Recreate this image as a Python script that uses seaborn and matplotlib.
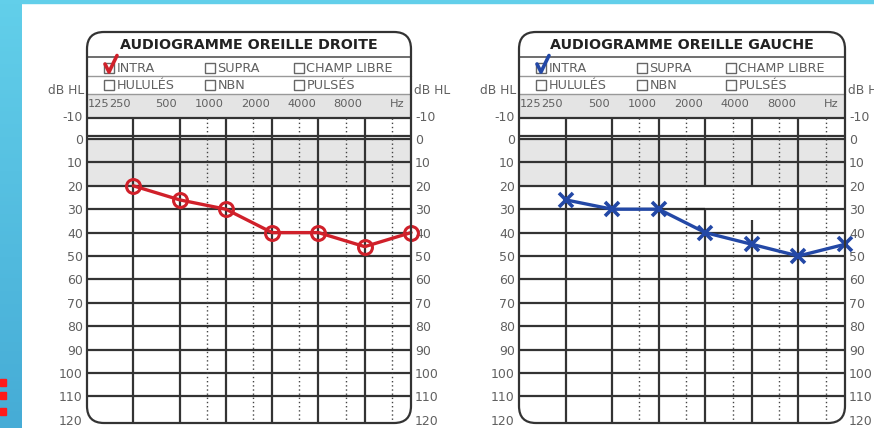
import numpy as np
import pandas as pd
import seaborn as sns
import matplotlib.pyplot as plt
from matplotlib.patches import FancyBboxPatch, Rectangle

# audiogram values (dB HL per frequency)
freqs = [250, 500, 1000, 2000, 4000, 8000, 16000]
right_ear_db = [20, 26, 30, 40, 40, 46, 40]
left_ear_db = [26, 30, 30, 40, 45, 50, 45]
freq_labels = ['125', '250', '500', '1000', '2000', '4000', '8000']
label_freqs = [125, 250, 500, 1000, 2000, 4000, 8000]
half_octaves = [750, 1500, 3000, 6000, 12000]
db_ticks = list(range(-10, 130, 10))
options_row1 = ['INTRA', 'SUPRA', 'CHAMP LIBRE']
options_row2 = ['HULULÉS', 'NBN', 'PULSÉS']

W, H = 874, 428
sns.set_theme(style='white')
plt.rcParams['font.family'] = ['DejaVu Sans']

fig = plt.figure(figsize=(W / 100, H / 100), dpi=100)

bg = fig.add_axes([0, 0, 1, 1], zorder=0)
bg.set_xlim(0, W)
bg.set_ylim(H, 0)
bg.axis('off')

fg = fig.add_axes([0, 0, 1, 1], zorder=3)
fg.set_xlim(0, W)
fg.set_ylim(H, 0)
fg.axis('off')
fg.patch.set_alpha(0)

# slide decoration: cyan strips and red squares
grad = np.linspace(0, 1, 100).reshape(-1, 1)
bg.imshow(grad, extent=(0, 22, H, 0), cmap=sns.blend_palette(['#62cfea', '#46acd6'], as_cmap=True),
          aspect='auto', zorder=1)
bg.add_patch(Rectangle((0, 0), W, 3, color='#62cfea', zorder=1))
for yy in [379, 392, 408]:
    bg.add_patch(Rectangle((0, yy), 6, 6.5, color='#ff1a1a', zorder=2))

# dB -> pixel: px = 139 + 2.34 * dB
top_db, bot_db = -19.2, 121.3
px_top = 139 + 2.34 * top_db
px_bot = 139 + 2.34 * bot_db
grid_top = -9
txt_gray = '#606060'


def draw_chart(x0, x1, title, values, color, marker, check_color, breaks=None):
    # box
    bg.add_patch(FancyBboxPatch((x0, 32), x1 - x0, 391, boxstyle='round,pad=0,rounding_size=17',
                                fc='white', ec='none', zorder=2))
    fg.add_patch(FancyBboxPatch((x0, 32), x1 - x0, 391, boxstyle='round,pad=0,rounding_size=17',
                                fc='none', ec='#333333', lw=1.6, zorder=5))
    fg.plot([x0, x1], [57, 57], color='#555555', lw=1.2)
    fg.plot([x0, x1], [76, 76], color='#999999', lw=1.0)
    fg.plot([x0, x1], [93.5, 93.5], color='#999999', lw=1.0)
    fg.text((x0 + x1) / 2, 45, title, ha='center', va='center', fontsize=10.3,
            fontweight='bold', color='#222222')

    # option checkboxes
    for row_y, opts in [(68, options_row1), (84.5, options_row2)]:
        for off, name in zip([17, 118, 207], opts):
            fg.add_patch(Rectangle((x0 + off, row_y - 5), 10, 10, fc='white', ec='#666666', lw=1.0, zorder=4))
            fg.text(x0 + off + 12.5, row_y + 0.5, name, ha='left', va='center', fontsize=9.2, color=txt_gray)
    fg.plot([x0 + 18, x0 + 22, x0 + 30], [64, 72, 55.5], color=check_color, lw=2.6,
            solid_capstyle='round', zorder=6)

    fg.text(x0 - 3, 90, 'dB HL', ha='right', va='center', fontsize=8.8, color=txt_gray)
    fg.text(x1 + 3, 90, 'dB HL', ha='left', va='center', fontsize=8.8, color=txt_gray)

    ax = fig.add_axes([x0 / W, (H - px_bot) / H, (x1 - x0) / W, (px_bot - px_top) / H], zorder=1)
    ax.set_xlim(0, 7)
    ax.set_ylim(bot_db, top_db)
    ax.patch.set_alpha(0)
    for s in ax.spines.values():
        s.set_visible(False)

    ax.axhspan(top_db, grid_top, color='#e4e4e4', lw=0, zorder=0)
    ax.axhspan(0, 20, color='#e6e6e6', lw=0, zorder=0)
    ax.hlines([grid_top, -1.3] + list(range(0, 120, 10)), 0, 7, color='#333333', lw=1.6, zorder=1)

    ax.vlines(np.log2(np.array(half_octaves) / 125), grid_top, bot_db, color='#444444',
              lw=1.0, linestyles=(0, (1, 2)), zorder=1)
    for f in label_freqs[1:]:
        xv = np.log2(f / 125)
        if breaks and f in breaks:
            b0, b1 = breaks[f]
            ax.vlines(xv, grid_top, b0, color='#333333', lw=1.6, zorder=1)
            ax.vlines(xv, b1, bot_db, color='#333333', lw=1.6, zorder=1)
        else:
            ax.vlines(xv, grid_top, bot_db, color='#333333', lw=1.6, zorder=1)
    if breaks:
        ax.hlines(30, 3.56, 4, color='#222222', lw=1.6, zorder=1)

    # frequency labels
    for f, lab in zip(label_freqs, freq_labels):
        xv = np.log2(f / 125)
        if f == 125:
            ax.text(0.02, -15, lab, ha='left', va='center', fontsize=8.2, color=txt_gray)
        else:
            ax.text(xv - 0.05, -15, lab, ha='right', va='center', fontsize=8.2, color=txt_gray)
    ax.text(6.85, -15, 'Hz', ha='right', va='center', fontsize=8.2, color=txt_gray)

    ax.set_xticks([])
    ax.set_yticks(db_ticks)
    ax.set_yticklabels([str(t) for t in db_ticks])
    ax.tick_params(axis='y', length=0, pad=3, labelsize=9, labelcolor=txt_gray,
                   labelleft=True, labelright=True)

    df = pd.DataFrame({'x': np.log2(np.array(freqs) / 125), 'db': values})
    if marker == 'o':
        sns.lineplot(data=df, x='x', y='db', ax=ax, color=color, lw=2.4, marker='o',
                     markersize=10, markerfacecolor='none', markeredgecolor=color,
                     markeredgewidth=2.2, clip_on=False, zorder=4)
    else:
        sns.lineplot(data=df, x='x', y='db', ax=ax, color=color, lw=2.4, marker='x',
                     markersize=10, markeredgecolor=color, markeredgewidth=2.6,
                     clip_on=False, zorder=4)
    ax.set_xlabel('')
    ax.set_ylabel('')
    ax.set_xlim(0, 7)
    ax.set_ylim(bot_db, top_db)
    return ax


draw_chart(87, 411, 'AUDIOGRAMME OREILLE DROITE', right_ear_db, '#d0202a', 'o', '#d0202a')
draw_chart(519, 845, 'AUDIOGRAMME OREILLE GAUCHE', left_ear_db, '#2348a6', 'x', '#2348a6',
           breaks={2000: (20, 30), 4000: (20, 34.5)})

fig.savefig('out.png', dpi=100)
